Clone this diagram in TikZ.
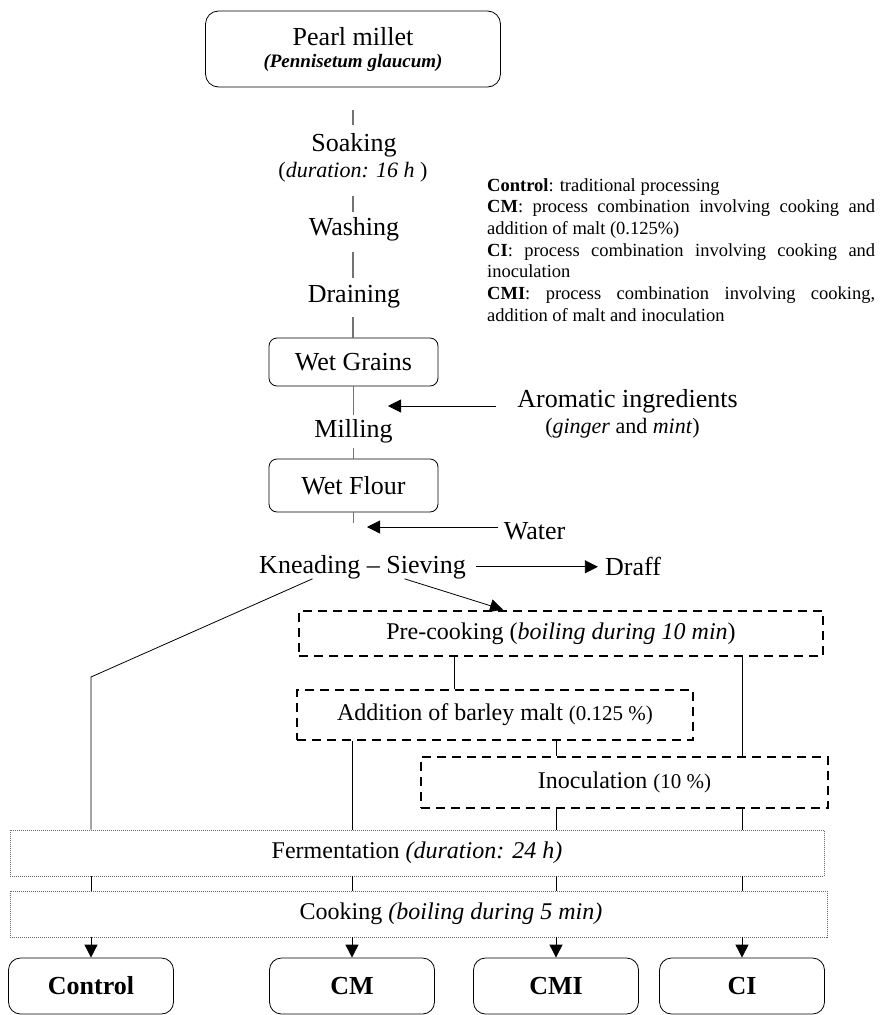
\documentclass[tikz,border=0pt]{standalone}
\usepackage{fontspec}
\setmainfont{Liberation Serif}
\usetikzlibrary{arrows.meta}

\tikzset{
  stem/.style={draw=black!55, line width=1.2pt},
  link/.style={draw=black, line width=0.8pt},
  arr/.style={link, -{Triangle[length=13pt,width=13pt]}},
  txt/.style={inner sep=0pt, anchor=base, font=\fontsize{26}{30}\selectfont},
  subtxt/.style={inner sep=0pt, anchor=base, font=\fontsize{22}{26}\selectfont},
  roundbox/.style={draw, line width=0.8pt, rounded corners=#1, inner sep=0pt,
    align=center, font=\fontsize{26}{22}\selectfont},
  dashbox/.style={draw, line width=2.7pt, dash pattern=on 9pt off 6pt,
    inner sep=0pt, font=\fontsize{24}{28}\selectfont},
  dotbox/.style={draw=black!60, line width=0.9pt, dash pattern=on 1pt off 1pt,
    inner sep=0pt, font=\fontsize{24}{28}\selectfont},
  endbox/.style={roundbox=12pt, minimum width=165pt, minimum height=56pt,
    font=\fontsize{26}{30}\selectfont\bfseries}
}

\begin{document}
\begin{tikzpicture}[x=1pt,y=-1pt]
\useasboundingbox (0,0) rectangle (882,1015);

\coordinate (aromtip) at (388,406);
\coordinate (watertip) at (367,527);
\coordinate (bend) at (91,677);
\coordinate (malt) at (454,673);

% main column
\node[roundbox=13pt, minimum width=295pt, minimum height=76pt] (pm) at (353,49)
  {Pearl millet\\{\fontsize{19}{22}\selectfont\bfseries\itshape (Pennisetum glaucum)}};
\node[txt] (soak) at (354,151) {Soaking};
\node[subtxt] (dur) at (353,177) {(\textit{duration: 16 h} )};
\node[txt] (wash) at (354,235) {Washing};
\node[txt] (drain) at (354,302) {Draining};
\node[roundbox=8pt, minimum width=169pt, minimum height=48pt] (wg) at (353.5,362) {Wet Grains};
\node[txt] (mill) at (353.5,437) {Milling};
\node[roundbox=8pt, minimum width=169pt, minimum height=53pt] (wf) at (353.5,485.5) {Wet Flour};
\node[txt] (arom) at (627.5,407) {Aromatic ingredients};
\node[subtxt] (spice) at (622.5,433) {(\textit{ginger} and \textit{mint})};
\node[txt] (water) at (534.5,539) {Water};
\node[txt] (knead) at (362.5,573) {Kneading \textendash{} Sieving};
\node[txt] (draff) at (633,575) {Draff};

% legend
\node[anchor=north west, inner sep=0pt, text width=388pt, align=justify,
  font=\fontsize{18.5}{21.7}\selectfont] (legend) at (487,178)
  {\setlength{\parindent}{0pt}%
   \textbf{Control}: traditional processing\par
   \textbf{CM}: process combination involving cooking and\linebreak addition of malt (0.125\%)\par
   \textbf{CI}: process combination involving cooking and\linebreak inoculation\par
   \textbf{CMI}: process combination involving cooking,\linebreak addition of malt and inoculation};

% treatments
\node[dashbox, minimum width=524pt, minimum height=45pt] (precook) at (561,633.5)
  {Pre-cooking (\textit{boiling during 10 min})};
\node[dashbox, minimum width=396pt, minimum height=50pt] (addm) at (495,715)
  {Addition of barley malt {\fontsize{21}{24}\selectfont(0.125 \%)}};
\node[dashbox, minimum width=407pt, minimum height=51pt] (inoc) at (624.5,782.5)
  {Inoculation {\fontsize{21}{24}\selectfont(10 \%)}};
\node[dotbox, minimum width=814pt, minimum height=46pt] (ferm) at (417,853)
  {Fermentation \textit{(duration: 24 h)}};
\node[dotbox, minimum width=817pt, minimum height=46pt] (cook) at (418.5,914) {};
\node[txt, anchor=center, font=\fontsize{24}{28}\selectfont] (cooktxt) at (451,914)
  {Cooking \textit{(boiling during 5 min)}};

% products
\node[endbox] (ctrl) at (91,986) {Control};
\node[endbox] (cm) at (352,986) {CM};
\node[endbox] (cmi) at (556,986) {CMI};
\node[endbox] (ci) at (742,986) {CI};

% stem between steps
\draw[stem, shorten <=23pt, shorten >=8pt] (pm.south) -- (pm.south |- soak.north);
\draw[stem, shorten <=14pt, shorten >=5pt] (pm.south |- dur.south) -- (pm.south |- wash.north);
\draw[stem, shorten <=11pt, shorten >=7pt] (pm.south |- wash.south) -- (pm.south |- drain.north);
\draw[stem, shorten <=9pt] (pm.south |- drain.south) -- (pm.south |- wg.north);
\draw[stem, shorten >=4pt] (wg.south) -- (wg.south |- mill.north);
\draw[stem, shorten <=5pt] (wg.south |- mill.south) -- (wf.north);
\draw[stem, shorten >=32pt] (wf.south) -- (wf.south |- knead.north);

% inputs and outputs
\draw[arr, shorten <=21pt] (arom.west |- aromtip) -- (aromtip);
\draw[arr, shorten <=6pt] (water.west |- watertip) -- (watertip);
\draw[arr, shorten <=10pt, shorten >=7pt] (knead.east) -- (knead.east -| draff.west);
\draw[arr] ([xshift=42pt]knead.south) -- ([xshift=-58pt]precook.north);
\draw[link] ([xshift=-50pt]knead.south) -- (bend) -- (bend |- ferm.north);

\draw[link] (malt |- precook.south) -- (malt |- addm.north);
\draw[link] (ci |- precook.south) -- (ci |- inoc.north);
\draw[link] (cm |- addm.south) -- (cm |- ferm.north);
\draw[link] (cmi |- addm.south) -- (cmi |- inoc.north);
\foreach \col in {cmi,ci}
  \draw[link] (\col |- inoc.south) -- (\col |- ferm.north);
\foreach \col in {ctrl,cm,cmi,ci} {
  \draw[link] (\col |- ferm.south) -- (\col |- cook.north);
  \draw[arr] (\col |- cook.south) -- (\col.north);
}
\end{tikzpicture}
\end{document}
